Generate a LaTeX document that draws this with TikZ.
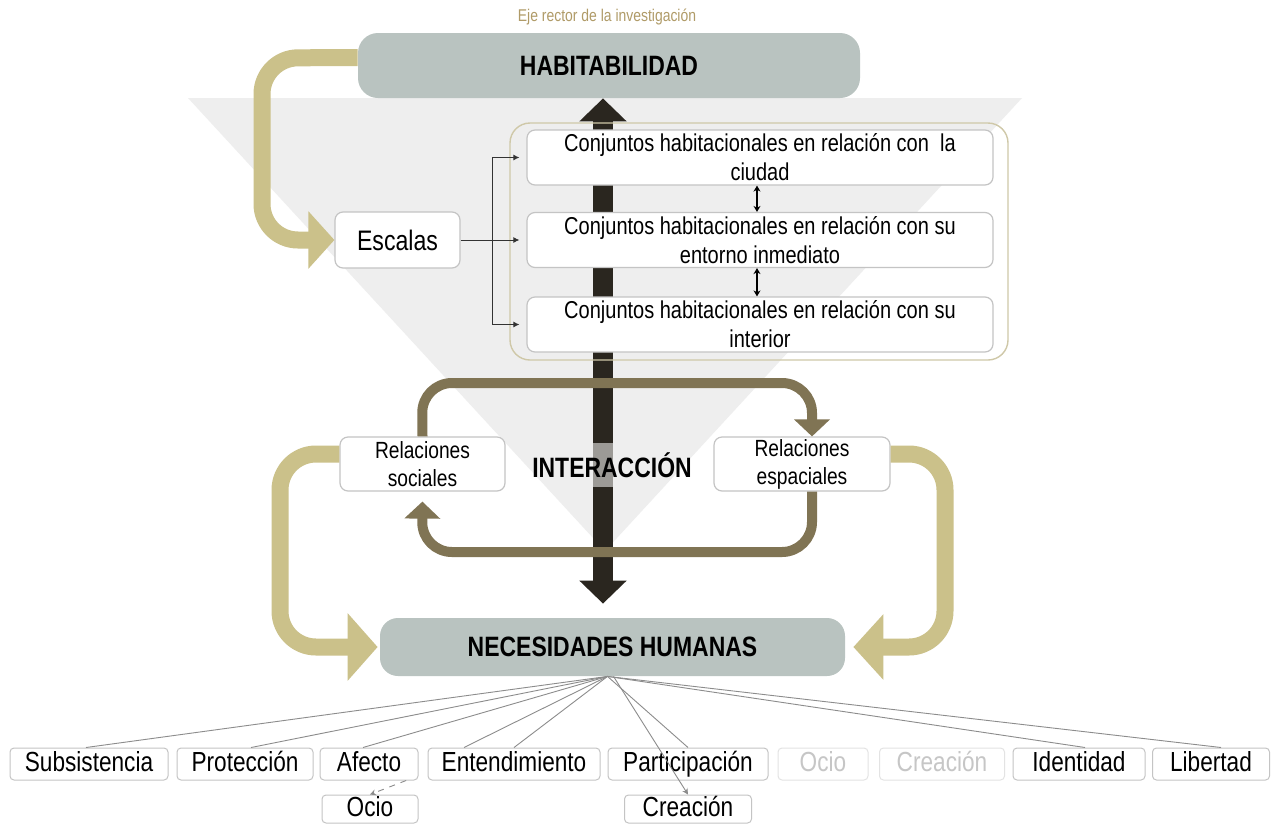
\documentclass[tikz,border=0pt]{standalone}
\usepackage{fontspec}
\setmainfont[FakeStretch=0.82]{Liberation Sans}
\usetikzlibrary{arrows.meta,calc}

\definecolor{boxgray}{HTML}{B9C3C0}
\definecolor{khaki}{HTML}{CBC18A}
\definecolor{loopbrown}{HTML}{807454}
\definecolor{shaftdark}{HTML}{2A261F}
\definecolor{shaftlight}{HTML}{9C9A96}
\definecolor{titletan}{HTML}{B09B68}
\definecolor{backtri}{HTML}{EEEEEE}
\definecolor{frameline}{HTML}{C4C4C4}
\definecolor{outerline}{HTML}{CFC8A8}
\definecolor{fanline}{HTML}{8C8C8C}

\begin{document}
\begin{tikzpicture}[x=0.5pt,y=-0.5pt,
  mainbox/.style={rounded corners=10pt, fill=boxgray, inner sep=0pt,
    font=\fontsize{14}{16}\selectfont\bfseries},
  whitebox/.style={rounded corners=4pt, draw=frameline, fill=white, line width=0.6pt,
    inner sep=0pt, align=center},
  scalebox/.style={whitebox, font=\fontsize{12.2}{14.5}\selectfont,
    minimum width=233pt, minimum height=27.5pt},
  relbox/.style={whitebox, font=\fontsize{11.7}{14}\selectfont,
    minimum width=82.5pt, minimum height=27pt},
  leaf/.style={rounded corners=2pt, draw=frameline, fill=white, line width=0.5pt,
    inner sep=0pt, minimum height=16pt, text height=9.8pt, text depth=2.6pt,
    font=\fontsize{13.8}{16}\selectfont},
  fadedleaf/.style={leaf, draw=gray!22, text=gray!45},
  khakiarrow/.style={draw=khaki, line width=8.5pt, rounded corners=18pt},
  looparrow/.style={draw=loopbrown, line width=5pt, rounded corners=15pt,
    -{Triangle[length=8.5pt,width=17.5pt]}},
  branch/.style={draw=black!80, line width=0.5pt, -{Latex[length=3pt,width=3pt]}},
  fan/.style={draw=fanline, line width=0.45pt},
]
\useasboundingbox (0,0) rectangle (1279,825);
\fill[white] (0,0) rectangle (1279,825);

% light backdrop wedge
\fill[backtri] (188,98) -- (1022,98) -- (605,551) -- cycle;

% heading above the main axis
\node[text=titletan, font=\fontsize{8.5}{10}\selectfont] (eje) at (607,17)
  {Eje rector de la investigación};

% main concepts
\node[mainbox, minimum width=251pt, minimum height=32.5pt] (hab) at (609,65.5)
  {HABITABILIDAD};
\node[mainbox, rounded corners=9pt, minimum width=232.5pt, minimum height=29pt] (nec)
  at (612.5,647) {NECESIDADES HUMANAS};

% vertical double-headed axis
\draw[draw=shaftdark, line width=10pt,
  {Triangle[length=11.5pt,width=23pt]}-{Triangle[length=11.5pt,width=23pt]},
  shorten >=7pt]
  ([xshift=-3pt]hab.south) -- ([xshift=-3pt]hab.south |- nec.north);

% scales group
\node[draw=outerline, line width=0.7pt, rounded corners=10pt, inner sep=0pt,
  minimum width=249pt, minimum height=118.5pt] (grp) at (759,241.5) {};
\node[scalebox] (b1) at (760,157.5)
  {Conjuntos habitacionales en relación con\ \ la\\ciudad};
\node[scalebox] (b2) at (760,240)
  {Conjuntos habitacionales en relación con su\\entorno inmediato};
\node[scalebox] (b3) at (760,324.5)
  {Conjuntos habitacionales en relación con su\\interior};
\node[whitebox, font=\fontsize{14.1}{16}\selectfont, minimum width=62.5pt,
  minimum height=28pt] (esc) at (397.5,240) {Escalas};

% relation boxes
\node[relbox] (rs) at (422.5,464) {Relaciones\\sociales};
\node[relbox, minimum width=88pt] (re) at (802,464) {Relaciones\\espaciales};

% khaki feedback arrows
\draw[khakiarrow, -{Triangle[length=13pt,width=28pt]}]
  ([yshift=4pt]hab.west) -- (262,58) -- (262,240) -- (esc.west);
\draw[khakiarrow, -{Triangle[length=15pt,width=33pt]}]
  ([yshift=5pt]rs.west) -- (280,454) -- (280,647) -- ([xshift=-1pt]nec.west);
\draw[khakiarrow, -{Triangle[length=15pt,width=32pt]}]
  ([yshift=5pt]re.east) -- (945,454) -- (945,647) -- ([xshift=4pt]nec.east);

% interaction loop
\draw[looparrow] (rs.north) -- (422,383) -- (812,383) -- ([xshift=5pt]re.north);
\draw[looparrow, shorten >=5pt] ([xshift=5pt]re.south) -- (812,552) -- (422,552)
  -- (rs.south);

% lighter band of the axis behind the central label
\fill[shaftlight] (593,443) rectangle (613,487);
\node[inner sep=0pt, font=\fontsize{14}{16}\selectfont\bfseries] (inter)
  at (612,465) {INTERACCIÓN};

% scale links
\coordinate (jn) at (492,240);
\draw[branch, shorten >=3.5pt] (esc.east) -- (b2.west);
\draw[branch, shorten >=3.5pt] (jn) |- (b1.west);
\draw[branch, shorten >=3.5pt] (jn) |- (b3.west);
\draw[line width=0.7pt, {Stealth[length=3pt,width=3.5pt]}-{Stealth[length=3pt,width=3.5pt]}]
  ([xshift=-1.5pt]b1.south) -- ([xshift=-1.5pt]b2.north);
\draw[line width=0.7pt, {Stealth[length=3pt,width=3.5pt]}-{Stealth[length=3pt,width=3.5pt]}]
  ([xshift=-1.5pt]b2.south) -- ([xshift=-1.5pt]b3.north);

% human needs
\node[leaf, minimum width=79pt] (sub) at (89,764) {Subsistencia};
\node[leaf, minimum width=68pt] (pro) at (245,764) {Protección};
\node[leaf, minimum width=49pt] (afe) at (369,764) {Afecto};
\node[leaf, minimum width=86pt] (ent) at (514,764) {Entendimiento};
\node[leaf, minimum width=80pt] (par) at (688,764) {Participación};
\node[fadedleaf, minimum width=45pt] (ociof) at (823,764) {Ocio};
\node[fadedleaf, minimum width=62.5pt] (creaf) at (942,764) {Creación};
\node[leaf, minimum width=66pt] (ide) at (1079,764) {Identidad};
\node[leaf, minimum width=58.5pt] (lib) at (1211,764) {Libertad};
\node[leaf, minimum width=48pt, minimum height=14pt] (ocio) at (370,809) {Ocio};
\node[leaf, minimum width=63.5pt, minimum height=14pt] (crea) at (688,809) {Creación};

\coordinate (hub) at ([xshift=-2.5pt]nec.south);
\draw[fan] (hub) -- ([xshift=-1.5pt]sub.north);
\draw[fan] (hub) -- ([xshift=3pt]pro.north);
\draw[fan] (hub) -- ([xshift=-3pt]afe.north);
\draw[fan] (hub) -- ([xshift=-25pt]ent.north);
\draw[fan] (hub) -- (ent.north);
\draw[fan] (hub) -- (par.north);
\draw[fan, -{Stealth[length=3pt,width=3pt]}] ([xshift=3pt]hub) -- (crea.north);
\draw[fan] (hub) -- ([xshift=3pt]ide.north);
\draw[fan] (hub) -- ([xshift=5pt]lib.north);
\draw[fan, dashed, -{Stealth[length=3pt,width=3pt]}]
  ($(afe.south)!0.75!(afe.south east)$) -- (ocio.north);
\end{tikzpicture}
\end{document}
